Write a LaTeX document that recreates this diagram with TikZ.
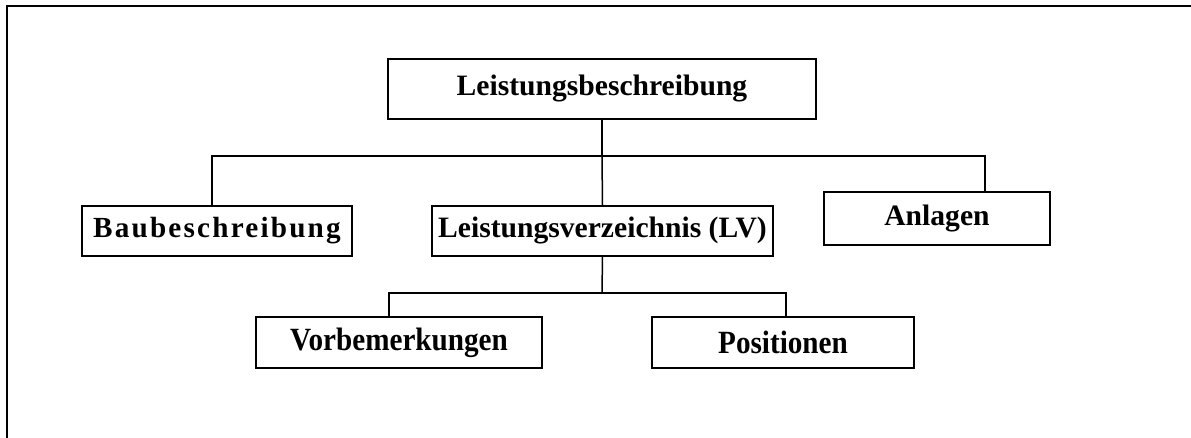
\documentclass[tikz,border=0pt]{standalone}
\usepackage{fontspec}
\setmainfont{Liberation Serif}
\begin{document}
\begin{tikzpicture}[x=0.5pt,y=-0.5pt,
  box/.style={draw, line width=1pt, inner sep=0pt, align=center,
    font=\bfseries\fontsize{14.8}{16}\selectfont},
  narrow/.style={font=\bfseries\fontsize{16.2}{18}\selectfont\addfontfeature{FakeStretch=0.9}},
  spaced/.style={font=\bfseries\fontsize{14.6}{16}\selectfont\addfontfeature{LetterSpace=7.5}},
  link/.style={line width=0.75pt}]
\useasboundingbox (0,0) rectangle (1191,438);
% frame
\draw[line width=1pt] (7,438) -- (7,6.5) -- (1191,6.5);
% boxes
\node[box, minimum width=214pt, minimum height=30pt] (top) at (602,89) {Leistungsbeschreibung};
\node[box, spaced, minimum width=135pt, minimum height=25pt] (bau) at (217,231) {Baubeschreibung};
\node[box, minimum width=170.5pt, minimum height=25pt] (lv) at (602.5,231) {Leistungsverzeichnis (LV)};
\node[box, minimum width=113pt, minimum height=26.5pt] (anl) at (937,218.5) {Anlagen};
\node[box, narrow, minimum width=143pt, minimum height=25.5pt] (vor) at (399,342.5) {Vorbemerkungen};
\node[box, narrow, minimum width=131pt, minimum height=25.5pt] (pos) at (783,342.5) {Positionen};
% connectors
\coordinate (j1) at (602,156);
\coordinate (j2) at (602,293);
\draw[link] (top.south) -- (j1);
\draw[link] (j1) -- (lv.north);
\draw[link] ([xshift=-2.5pt]bau.north) |- (j1);
\draw[link] (j1) -| ([xshift=24pt]anl.north);
\draw[link] (lv.south) -- (j2);
\draw[link] ([xshift=-5pt]vor.north) |- (j2);
\draw[link] (j2) -| ([xshift=1.5pt]pos.north);
\end{tikzpicture}
\end{document}
